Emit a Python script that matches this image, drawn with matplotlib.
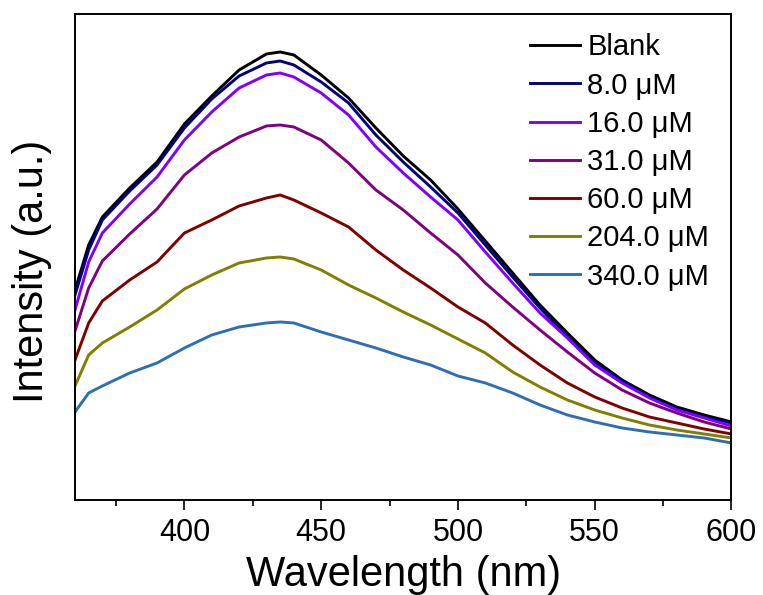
import numpy as np
import matplotlib.pyplot as plt
from matplotlib.ticker import MultipleLocator

plt.rcParams['font.family'] = ['Liberation Sans', 'DejaVu Sans']

wavelength = [360, 365, 370, 380, 390, 400, 410, 420, 430, 435, 440, 450, 460, 470,
              480, 490, 500, 510, 520, 530, 540, 550, 560, 570, 580, 590, 600]

blank = [210, 255, 283, 312, 338, 376, 404, 430, 446, 448, 445, 425, 402, 372,
         344, 320, 291, 259, 227, 195, 167, 140, 120, 105, 93, 85, 78]
c8 = [205, 250, 280, 309, 335, 372, 401, 424, 437, 439, 435, 418, 397, 365,
      338, 313, 287, 255, 223, 192, 163, 137, 119, 103, 91, 83, 77]
c16 = [190, 238, 267, 296, 323, 360, 388, 412, 425, 427, 423, 407, 385, 353,
       327, 303, 280, 248, 217, 187, 162, 135, 117, 102, 90, 82, 74]
c31 = [169, 212, 239, 266, 291, 325, 347, 363, 374, 375, 373, 360, 337, 310,
       290, 267, 245, 217, 193, 170, 148, 127, 110, 97, 87, 78, 71]
c60 = [140, 177, 199, 220, 238, 267, 280, 294, 302, 305, 300, 287, 273, 250,
       230, 212, 193, 177, 155, 135, 117, 103, 92, 83, 77, 71, 66]
c204 = [114, 145, 157, 173, 190, 211, 225, 237, 242, 243, 241, 230, 215, 202,
        188, 175, 161, 147, 128, 113, 100, 90, 82, 75, 70, 66, 62]
c340 = [88, 107, 114, 127, 137, 152, 165, 173, 177, 178, 177, 168, 160, 152,
        143, 135, 124, 117, 107, 95, 85, 78, 72, 68, 65, 62, 57]

labels = ['Blank', '8.0 μM', '16.0 μM', '31.0 μM', '60.0 μM', '204.0 μM', '340.0 μM']
series = [blank, c8, c16, c31, c60, c204, c340]
colors = ['#000000', '#000080', '#8000FF', '#800080', '#800000', '#808000', '#306EB4']

fig = plt.figure(figsize=(7.63, 5.95), dpi=100)
ax = fig.add_axes([0.0983, 0.1597, 0.8604, 0.8168])

for y, lab, col in zip(series, labels, colors):
    ax.plot(wavelength, y, color=col, lw=2.1, label=lab)

ax.set_xlim(360, 600)
ax.set_ylim(0, 486)
ax.xaxis.set_major_locator(MultipleLocator(50))
ax.xaxis.set_minor_locator(MultipleLocator(25))
ax.set_yticks([])
ax.tick_params(axis='x', which='major', direction='out', length=7, width=1.2,
               labelsize=22, pad=6)
ax.tick_params(axis='x', which='minor', direction='out', length=4.3, width=1.2)
for sp in ax.spines.values():
    sp.set_linewidth(1.4)

ax.set_xlabel('Wavelength (nm)', fontsize=30, labelpad=5)
ax.set_ylabel('Intensity (a.u.)', fontsize=30)
ax.yaxis.set_label_coords(-0.035, 0.47)

ax.legend(loc='upper left', bbox_to_anchor=(0.693, 0.96), frameon=False,
          fontsize=21, handlelength=1.72, handletextpad=0.25, labelspacing=0.35,
          borderpad=0, borderaxespad=0)

fig.savefig('out.png', dpi=100)
